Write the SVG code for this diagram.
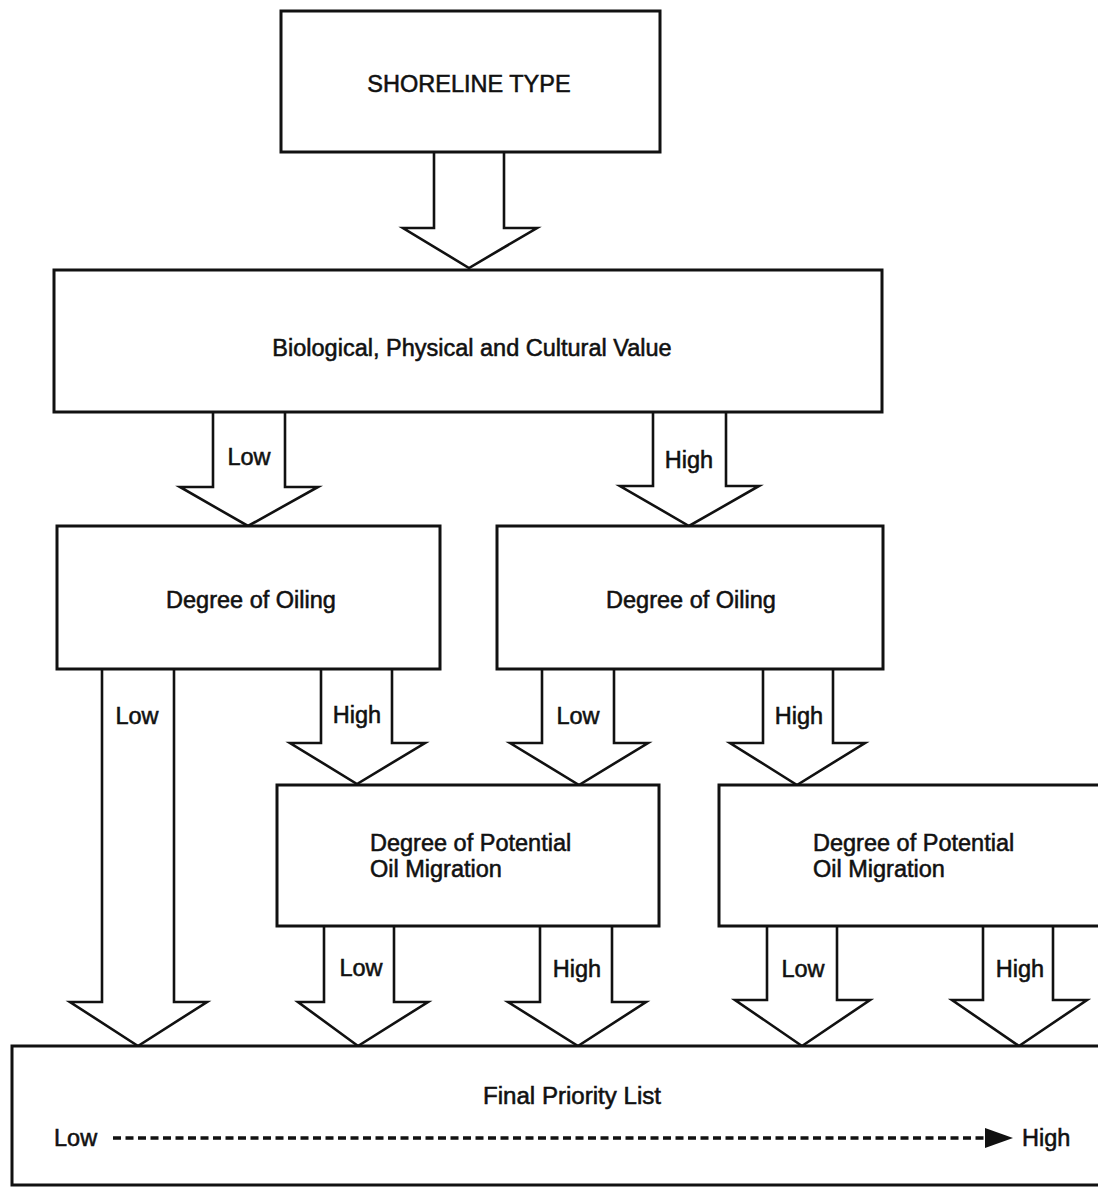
<svg xmlns="http://www.w3.org/2000/svg" width="1098" height="1187" viewBox="0 0 1098 1187">
  <style>
    .box { fill: #fff; stroke: #111; stroke-width: 3; }
    .arrow { fill: #fff; stroke: #111; stroke-width: 2.6; stroke-linejoin: miter; }
    .label { font-family: "Liberation Sans", Arial, sans-serif; font-size: 23.5px; fill: #111; stroke: #111; stroke-width: 0.55; }
    .mid { text-anchor: middle; }
    .dash { stroke: #111; stroke-width: 3.5; stroke-dasharray: 8 4.5; fill: none; }
  </style>
  <defs>
    <marker id="solidHead" viewBox="0 0 28 20" refX="0" refY="10" markerWidth="28" markerHeight="20" markerUnits="userSpaceOnUse" orient="auto">
      <polygon points="0,0 28,10 0,20" fill="#111"/>
    </marker>
  </defs>
  <rect width="1098" height="1187" fill="#fff"/>

  <!-- block arrows between levels -->
  <g id="connectors">
    <path class="arrow" d="M434 152 V228 H403 L469 268 L537 228 H504 V152"/>
    <path class="arrow" d="M213 412 V487 H180 L248 526 L318 487 H285 V412"/>
    <path class="arrow" d="M653 412 V486 H620 L689 526 L759 486 H726 V412"/>
    <path class="arrow" d="M102 669 V1002 H70 L138 1046 L207 1002 H174 V669"/>
    <path class="arrow" d="M321 669 V743 H290 L357 784 L425 743 H392 V669"/>
    <path class="arrow" d="M542 669 V743 H510 L579 785 L648 743 H614 V669"/>
    <path class="arrow" d="M763 669 V743 H730 L797 785 L865 743 H833 V669"/>
    <path class="arrow" d="M324 926 V1002 H298 L358 1046 L428 1002 H394 V926"/>
    <path class="arrow" d="M540 926 V1002 H508 L578 1046 L646 1002 H612 V926"/>
    <path class="arrow" d="M767 926 V1000 H735 L802 1046 L870 1000 H837 V926"/>
    <path class="arrow" d="M983 926 V1000 H952 L1019 1046 L1087 1000 H1053 V926"/>
    <text class="label mid" x="249" y="465">Low</text>
    <text class="label mid" x="689" y="468">High</text>
    <text class="label mid" x="137" y="724">Low</text>
    <text class="label mid" x="357" y="723">High</text>
    <text class="label mid" x="578" y="724">Low</text>
    <text class="label mid" x="799" y="724">High</text>
    <text class="label mid" x="361" y="976">Low</text>
    <text class="label mid" x="577" y="977">High</text>
    <text class="label mid" x="803" y="977">Low</text>
    <text class="label mid" x="1020" y="977">High</text>
  </g>

  <g id="shoreline-type">
    <rect class="box" x="281" y="11" width="379" height="141"/>
    <text class="label mid" x="469" y="92">SHORELINE TYPE</text>
  </g>

  <g id="value">
    <rect class="box" x="54" y="270" width="828" height="142"/>
    <text class="label mid" x="472" y="356">Biological, Physical and Cultural Value</text>
  </g>

  <g id="oiling-low">
    <rect class="box" x="57" y="526" width="383" height="143"/>
    <text class="label mid" x="251" y="608">Degree of Oiling</text>
  </g>

  <g id="oiling-high">
    <rect class="box" x="497" y="526" width="386" height="143"/>
    <text class="label mid" x="691" y="608">Degree of Oiling</text>
  </g>

  <g id="migration-left">
    <rect class="box" x="277" y="785" width="382" height="141"/>
    <text class="label" x="370" y="851">Degree of Potential</text>
    <text class="label" x="370" y="877">Oil Migration</text>
  </g>

  <g id="migration-right">
    <rect class="box" x="719" y="785" width="390" height="141"/>
    <text class="label" x="813" y="851">Degree of Potential</text>
    <text class="label" x="813" y="877">Oil Migration</text>
  </g>

  <g id="final-priority">
    <rect class="box" x="12" y="1046" width="1096" height="139"/>
    <text class="label mid" x="572" y="1104" textLength="178" lengthAdjust="spacingAndGlyphs">Final Priority List</text>
    <text class="label" x="54" y="1146">Low</text>
    <line class="dash" x1="113" y1="1138" x2="985" y2="1138" marker-end="url(#solidHead)"/>
    <text class="label" x="1022" y="1146">High</text>
  </g>
</svg>
